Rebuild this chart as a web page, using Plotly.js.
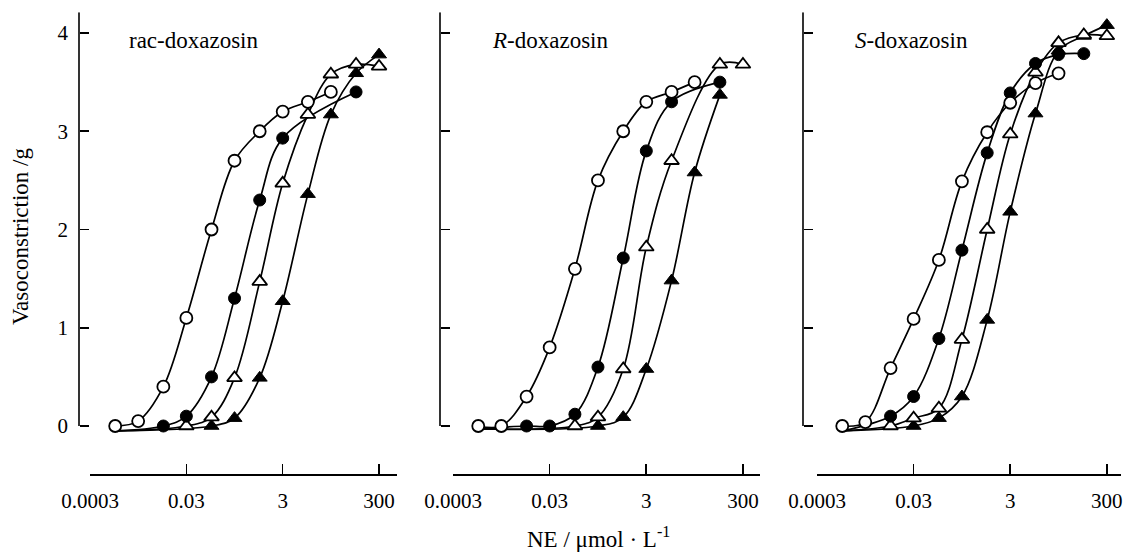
<!DOCTYPE html>
<html>
<head>
<meta charset="utf-8">
<script src="https://cdn.plot.ly/plotly-3.0.1.min.js"></script>
<style>html,body{margin:0;padding:0;background:#fff;}#chart{width:1123px;height:554px;}</style>
</head>
<body>
<div id="chart"></div>
<script>
// ---- tick labels / categories ----
const xTickVals = [0.0003, 0.03, 3, 300];
const xTickText = ['0.0003', '0.03', '3', '300'];
const yTickVals = [0, 1, 2, 3, 4];
const panelNames = ['rac-doxazosin', '<i>R</i>-doxazosin', '<i>S</i>-doxazosin'];
const yTitle = 'Vasoconstriction /g';
const xTitle = 'NE / μmol · L<sup>-1</sup>';

// fitted curves start (concentration, value) per panel
const curveStartX = 0.001;
const curveStartY = [-0.05, -0.03, -0.05];

// ---- rac-doxazosin ----
const racOpenCircleX = [0.001, 0.003, 0.01, 0.03, 0.1, 0.3, 1, 3, 10, 30];
const racOpenCircleY = [0, 0.05, 0.4, 1.1, 2.0, 2.7, 3.0, 3.2, 3.3, 3.4];
const racFilledCircleX = [0.01, 0.03, 0.1, 0.3, 1, 3, 100];
const racFilledCircleY = [0, 0.1, 0.5, 1.3, 2.3, 2.93, 3.4];
const racOpenTriX = [0.03, 0.1, 0.3, 1, 3, 10, 30, 100, 300];
const racOpenTriY = [0, 0.09, 0.49, 1.47, 2.47, 3.17, 3.58, 3.68, 3.66];
const racFilledTriX = [0.1, 0.3, 1, 3, 10, 30, 100, 300];
const racFilledTriY = [0, 0.08, 0.49, 1.27, 2.36, 3.17, 3.59, 3.78];

// ---- R-doxazosin ----
const rOpenCircleX = [0.001, 0.003, 0.01, 0.03, 0.1, 0.3, 1, 3, 10, 30];
const rOpenCircleY = [0, 0, 0.3, 0.8, 1.6, 2.5, 3.0, 3.3, 3.4, 3.5];
const rFilledCircleX = [0.01, 0.03, 0.1, 0.3, 1, 3, 10, 100];
const rFilledCircleY = [0, 0, 0.12, 0.6, 1.71, 2.8, 3.3, 3.5];
const rOpenTriX = [0.1, 0.3, 1, 3, 10, 100, 300];
const rOpenTriY = [0, 0.09, 0.58, 1.82, 2.7, 3.68, 3.68];
const rFilledTriX = [0.3, 1, 3, 10, 30, 100];
const rFilledTriY = [0, 0.09, 0.58, 1.48, 2.58, 3.37];

// ---- S-doxazosin ----
const sOpenCircleX = [0.001, 0.003, 0.01, 0.03, 0.1, 0.3, 1, 3, 10, 30];
const sOpenCircleY = [0, 0.04, 0.59, 1.09, 1.69, 2.49, 2.99, 3.29, 3.49, 3.59];
const sFilledCircleX = [0.01, 0.03, 0.1, 0.3, 1, 3, 10, 30, 100];
const sFilledCircleY = [0.1, 0.3, 0.89, 1.79, 2.78, 3.39, 3.69, 3.78, 3.79];
const sOpenTriX = [0.01, 0.03, 0.1, 0.3, 1, 3, 10, 30, 100, 300];
const sOpenTriY = [0, 0.08, 0.18, 0.88, 2.0, 2.97, 3.6, 3.9, 3.98, 3.97];
const sFilledTriX = [0.03, 0.1, 0.3, 1, 3, 10, 30, 100, 300];
const sFilledTriY = [0, 0.08, 0.3, 1.08, 2.18, 3.18, 3.82, 3.97, 4.08];

const panelData = [
  {oc: [racOpenCircleX, racOpenCircleY], fc: [racFilledCircleX, racFilledCircleY], ot: [racOpenTriX, racOpenTriY], ft: [racFilledTriX, racFilledTriY]},
  {oc: [rOpenCircleX, rOpenCircleY], fc: [rFilledCircleX, rFilledCircleY], ot: [rOpenTriX, rOpenTriY], ft: [rFilledTriX, rFilledTriY]},
  {oc: [sOpenCircleX, sOpenCircleY], fc: [sFilledCircleX, sFilledCircleY], ot: [sOpenTriX, sOpenTriY], ft: [sFilledTriX, sFilledTriY]}
];

// ---- layout geometry (pixels in a 1123x554 page) ----
const W = 1123, H = 554;
const FONT = 'Liberation Serif';
const xDomPx = [[90, 397], [453, 760], [817, 1121]];
const xRangeEnd = [2.85, 2.83, 2.77];
const yAxisPx = [79, 440, 803];
const xAxisLinePx = 474;
const yDomPx = [440.74, 12.37];
const yRange = [-0.15, 4.21];

const styles = {
  oc: {symbol: 'circle', size: 12, color: 'white', line: {color: 'black', width: 1.8}},
  fc: {symbol: 'circle', size: 12, color: 'black', line: {color: 'black', width: 1}},
  ot: {symbol: 'triangle-up', size: 13, color: 'white', line: {color: 'black', width: 1.8}},
  ft: {symbol: 'triangle-up', size: 13, color: 'black', line: {color: 'black', width: 1}}
};

const traces = [];
const layout = {
  width: W, height: H,
  margin: {l: 0, r: 0, t: 0, b: 0},
  paper_bgcolor: 'white', plot_bgcolor: 'rgba(0,0,0,0)',
  showlegend: false,
  font: {family: FONT, color: 'black', size: 21},
  shapes: [], annotations: []
};

panelData.forEach((pd, i) => {
  const xa = i === 0 ? 'x' : 'x' + (i + 1);
  const ya = i === 0 ? 'y' : 'y' + (i + 1);
  ['oc', 'fc', 'ot', 'ft'].forEach(k => {
    const xs = pd[k][0], ys = pd[k][1];
    const lx = k === 'oc' ? xs.slice() : [curveStartX].concat(xs);
    const ly = k === 'oc' ? ys.slice() : [curveStartY[i]].concat(ys);
    traces.push({x: lx, y: ly, xaxis: xa, yaxis: ya, mode: 'lines', type: 'scatter',
      line: {color: 'black', width: 1.7, shape: 'spline', smoothing: 1}, hoverinfo: 'skip'});
  });
  ['ft', 'ot', 'fc', 'oc'].forEach(k => {
    traces.push({x: pd[k][0], y: pd[k][1], xaxis: xa, yaxis: ya, mode: 'markers', type: 'scatter',
      marker: styles[k], cliponaxis: false});
  });

  const xKey = i === 0 ? 'xaxis' : 'xaxis' + (i + 1);
  const yKey = i === 0 ? 'yaxis' : 'yaxis' + (i + 1);
  layout[xKey] = {
    type: 'log', range: [Math.log10(0.0003), xRangeEnd[i]],
    domain: [xDomPx[i][0] / W, xDomPx[i][1] / W],
    anchor: 'free', position: 1 - xAxisLinePx / H,
    showline: true, linecolor: 'black', linewidth: 1.6,
    ticks: 'inside', ticklen: 10, tickwidth: 1.6, tickcolor: 'black',
    tickvals: xTickVals, ticktext: xTickText,
    tickfont: {family: FONT, size: 21, color: 'black'},
    ticklabelstandoff: 7, ticklabeloverflow: 'allow',
    showgrid: false, zeroline: false, fixedrange: true
  };
  layout[yKey] = {
    range: yRange,
    domain: [1 - yDomPx[0] / H, 1 - yDomPx[1] / H],
    anchor: 'free', position: yAxisPx[i] / W,
    showline: false,
    ticks: 'inside', ticklen: 9, tickwidth: 1.6, tickcolor: 'black',
    tickvals: yTickVals, showticklabels: i === 0,
    tickfont: {family: FONT, size: 21, color: 'black'},
    ticklabelstandoff: 11,
    showgrid: false, zeroline: false, fixedrange: true
  };
  layout.shapes.push({type: 'line', xref: 'paper', yref: ya, x0: yAxisPx[i] / W, x1: yAxisPx[i] / W,
    y0: 0, y1: yRange[1], line: {color: 'black', width: 1.6}});
  const labelX = [127, 490, 853][i];
  layout.annotations.push({text: panelNames[i], xref: 'paper', yref: 'paper', x: labelX / W, y: 1 - 41 / H,
    xanchor: 'left', yanchor: 'middle', showarrow: false, font: {family: FONT, size: 23, color: 'black'}});
});

layout.annotations.push({text: yTitle, xref: 'paper', yref: 'paper', x: 21 / W, y: 1 - 237 / H,
  xanchor: 'center', yanchor: 'middle', textangle: -90, showarrow: false, font: {family: FONT, size: 23, color: 'black'}});
layout.annotations.push({text: xTitle, xref: 'paper', yref: 'paper', x: 598 / W, y: 1 - 537 / H,
  xanchor: 'center', yanchor: 'middle', showarrow: false, font: {family: FONT, size: 23, color: 'black'}});

Plotly.newPlot('chart', traces, layout, {displayModeBar: false, staticPlot: true});
</script>
</body>
</html>
